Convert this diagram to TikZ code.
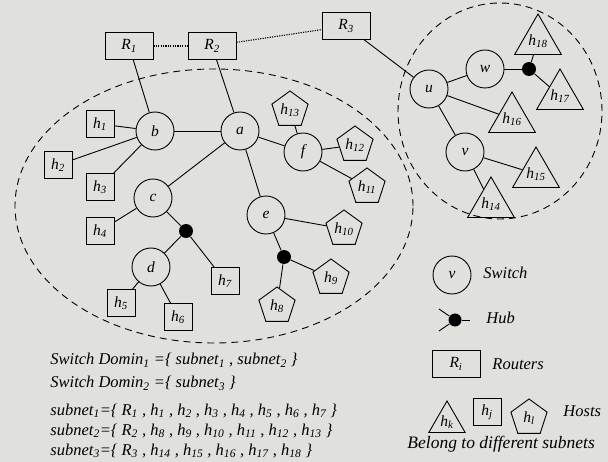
\documentclass[tikz,border=0pt]{standalone}
\usepackage{fontspec}
\setmainfont{Liberation Serif}
\usetikzlibrary{shapes.geometric}
\definecolor{bg}{RGB}{224,224,221}
\newcommand\ix[1]{\textsubscript{#1}}
\begin{document}
\begin{tikzpicture}[x=1pt,y=-1pt,line width=0.9pt,
  font=\fontsize{15.5}{18}\selectfont\itshape,
  sw/.style={circle,draw,minimum size=38pt,inner sep=0pt},
  hubn/.style={circle,fill=black,minimum size=14pt,inner sep=0pt},
  rt/.style={rectangle,draw,minimum width=48pt,minimum height=27pt,inner sep=0pt},
  hsq/.style={rectangle,draw,minimum width=28pt,minimum height=27pt,inner sep=0pt},
  hpe/.style={regular polygon,regular polygon sides=5,draw,minimum size=38pt,inner sep=0pt},
  htr/.style={regular polygon,regular polygon sides=3,draw,minimum size=48pt,inner sep=0pt},
  dom/.style={dash pattern=on 7pt off 5pt},
  link/.style={dash pattern=on 1.2pt off 1.2pt,line width=1.1pt},
  txt/.style={anchor=base west,inner sep=0pt,font=\fontsize{16.5}{19}\selectfont\itshape}]
\fill[bg] (0,0) rectangle (608,462);
\useasboundingbox (0,0) rectangle (608,462);
% domains
\draw[dom] (214,206) ellipse [x radius=199pt, y radius=137pt];
\draw[dom] (500,111) ellipse [x radius=102pt, y radius=108pt];
% routers
\node[rt] (R1) at (129,46) {R\ix{1}};
\node[rt] (R2) at (212,46) {R\ix{2}};
\node[rt] (R3) at (346,26) {R\ix{3}};
% switches
\node[sw] (b) at (155,131) {b};
\node[sw] (a) at (240,131) {a};
\node[sw] (f) at (303,152) {f};
\node[sw] (c) at (153,198) {c};
\node[sw] (e) at (266,215) {e};
\node[sw] (d) at (151,267) {d};
\node[sw] (u) at (429,89) {u};
\node[sw] (w) at (485,69) {w};
\node[sw] (v) at (465,152) {v};
% hubs
\node[hubn] (hc) at (186,231) {};
\node[hubn] (he) at (284,257) {};
\node[hubn] (hw) at (529,69) {};
% hosts
\node[hsq] (h1) at (100,124) {h\ix{1}};
\node[hsq] (h2) at (58,165) {h\ix{2}};
\node[hsq] (h3) at (100,187) {h\ix{3}};
\node[hsq] (h4) at (100,231) {h\ix{4}};
\node[hsq] (h5) at (121,303) {h\ix{5}};
\node[hsq] (h6) at (178,317) {h\ix{6}};
\node[hsq] (h7) at (225,281) {h\ix{7}};
\node[hpe] (h8) at (277,306) {h\ix{8}};
\node[hpe] (h9) at (331,278) {h\ix{9}};
\node[hpe] (h10) at (344,229) {h\ix{10}};
\node[hpe] (h11) at (367,187) {h\ix{11}};
\node[hpe] (h12) at (355,145) {h\ix{12}};
\node[hpe] (h13) at (290,110) {h\ix{13}};
\node[htr] (h14) at (491,204) {h\ix{14}};
\node[htr] (h15) at (536,174) {h\ix{15}};
\node[htr] (h16) at (512,119) {h\ix{16}};
\node[htr] (h17) at (560,96) {h\ix{17}};
\node[htr] (h18) at (538,41) {h\ix{18}};
% router links
\draw[link] (R1) -- (R2);
\draw[link] (R2) -- (R3);
\draw (R1) -- (b);
\draw (R2) -- (a);
\draw (R3) -- (u);
% subnet edges
\draw (b) -- (h1);
\draw (b) -- (h2);
\draw (b) -- (h3);
\draw (b) -- (a);
\draw (a) -- (c);
\draw (a) -- (e);
\draw (a) -- (f);
\draw (f) -- (h13);
\draw (f) -- (h12);
\draw (f) -- (h11);
\draw (c) -- (h4);
\draw (c) -- (hc);
\draw (hc) -- (d);
\draw (hc) -- (h7);
\draw (d) -- (h5);
\draw (d) -- (h6);
\draw (e) -- (h10);
\draw (e) -- (he);
\draw (he) -- (h9);
\draw (he) -- (h8);
\draw (u) -- (w);
\draw (u) -- (h16);
\draw (u) -- (v);
\draw (w) -- (hw);
\draw (hw) -- (h18);
\draw (hw) -- (h17);
\draw (v) -- (h15);
\draw (v) -- (h14);
% legend
\node[sw] (Lv) at (452,275) {v};
\node[txt] (Lsw) at (483,279) {Switch};
\node[hubn,minimum size=13pt] (Lh) at (455,320) {};
\coordinate (Lh1) at (439,309);
\coordinate (Lh2) at (439,331);
\coordinate (Lh3) at (470,320);
\draw (Lh) -- (Lh1);
\draw (Lh) -- (Lh2);
\draw (Lh) -- (Lh3);
\node[txt] (Lhub) at (486,324) {Hub};
\node[rt] (Lr) at (456,364) {R\ix{i}};
\node[txt] (Lrt) at (492,370) {Routers};
\node[htr,minimum size=42pt] (Lk) at (447,422) {h\ix{k}};
\node[hsq] (Lj) at (487,412) {h\ix{j}};
\node[hpe] (Ll) at (529,418) {h\ix{l}};
\node[txt] (Lhost) at (563,417) {Hosts};
\node[txt,font=\fontsize{17.5}{20}\selectfont\itshape] (Lbel) at (407,448) {Belong to different subnets};
% formulas
\node[txt] (t1) at (50,365) {Switch Domin\ix{1} =\{ subnet\ix{1} , subnet\ix{2} \}};
\node[txt] (t2) at (50,388) {Switch Domin\ix{2} =\{ subnet\ix{3} \}};
\node[txt] (t3) at (50,415) {subnet\ix{1}=\{ R\ix{1} , h\ix{1} , h\ix{2} , h\ix{3} , h\ix{4} , h\ix{5} , h\ix{6} , h\ix{7} \}};
\node[txt] (t4) at (50,435) {subnet\ix{2}=\{ R\ix{2} , h\ix{8} , h\ix{9} , h\ix{10} , h\ix{11} , h\ix{12} , h\ix{13} \}};
\node[txt] (t5) at (50,455) {subnet\ix{3}=\{ R\ix{3} , h\ix{14} , h\ix{15} , h\ix{16} , h\ix{17} , h\ix{18} \}};
\end{tikzpicture}
\end{document}
